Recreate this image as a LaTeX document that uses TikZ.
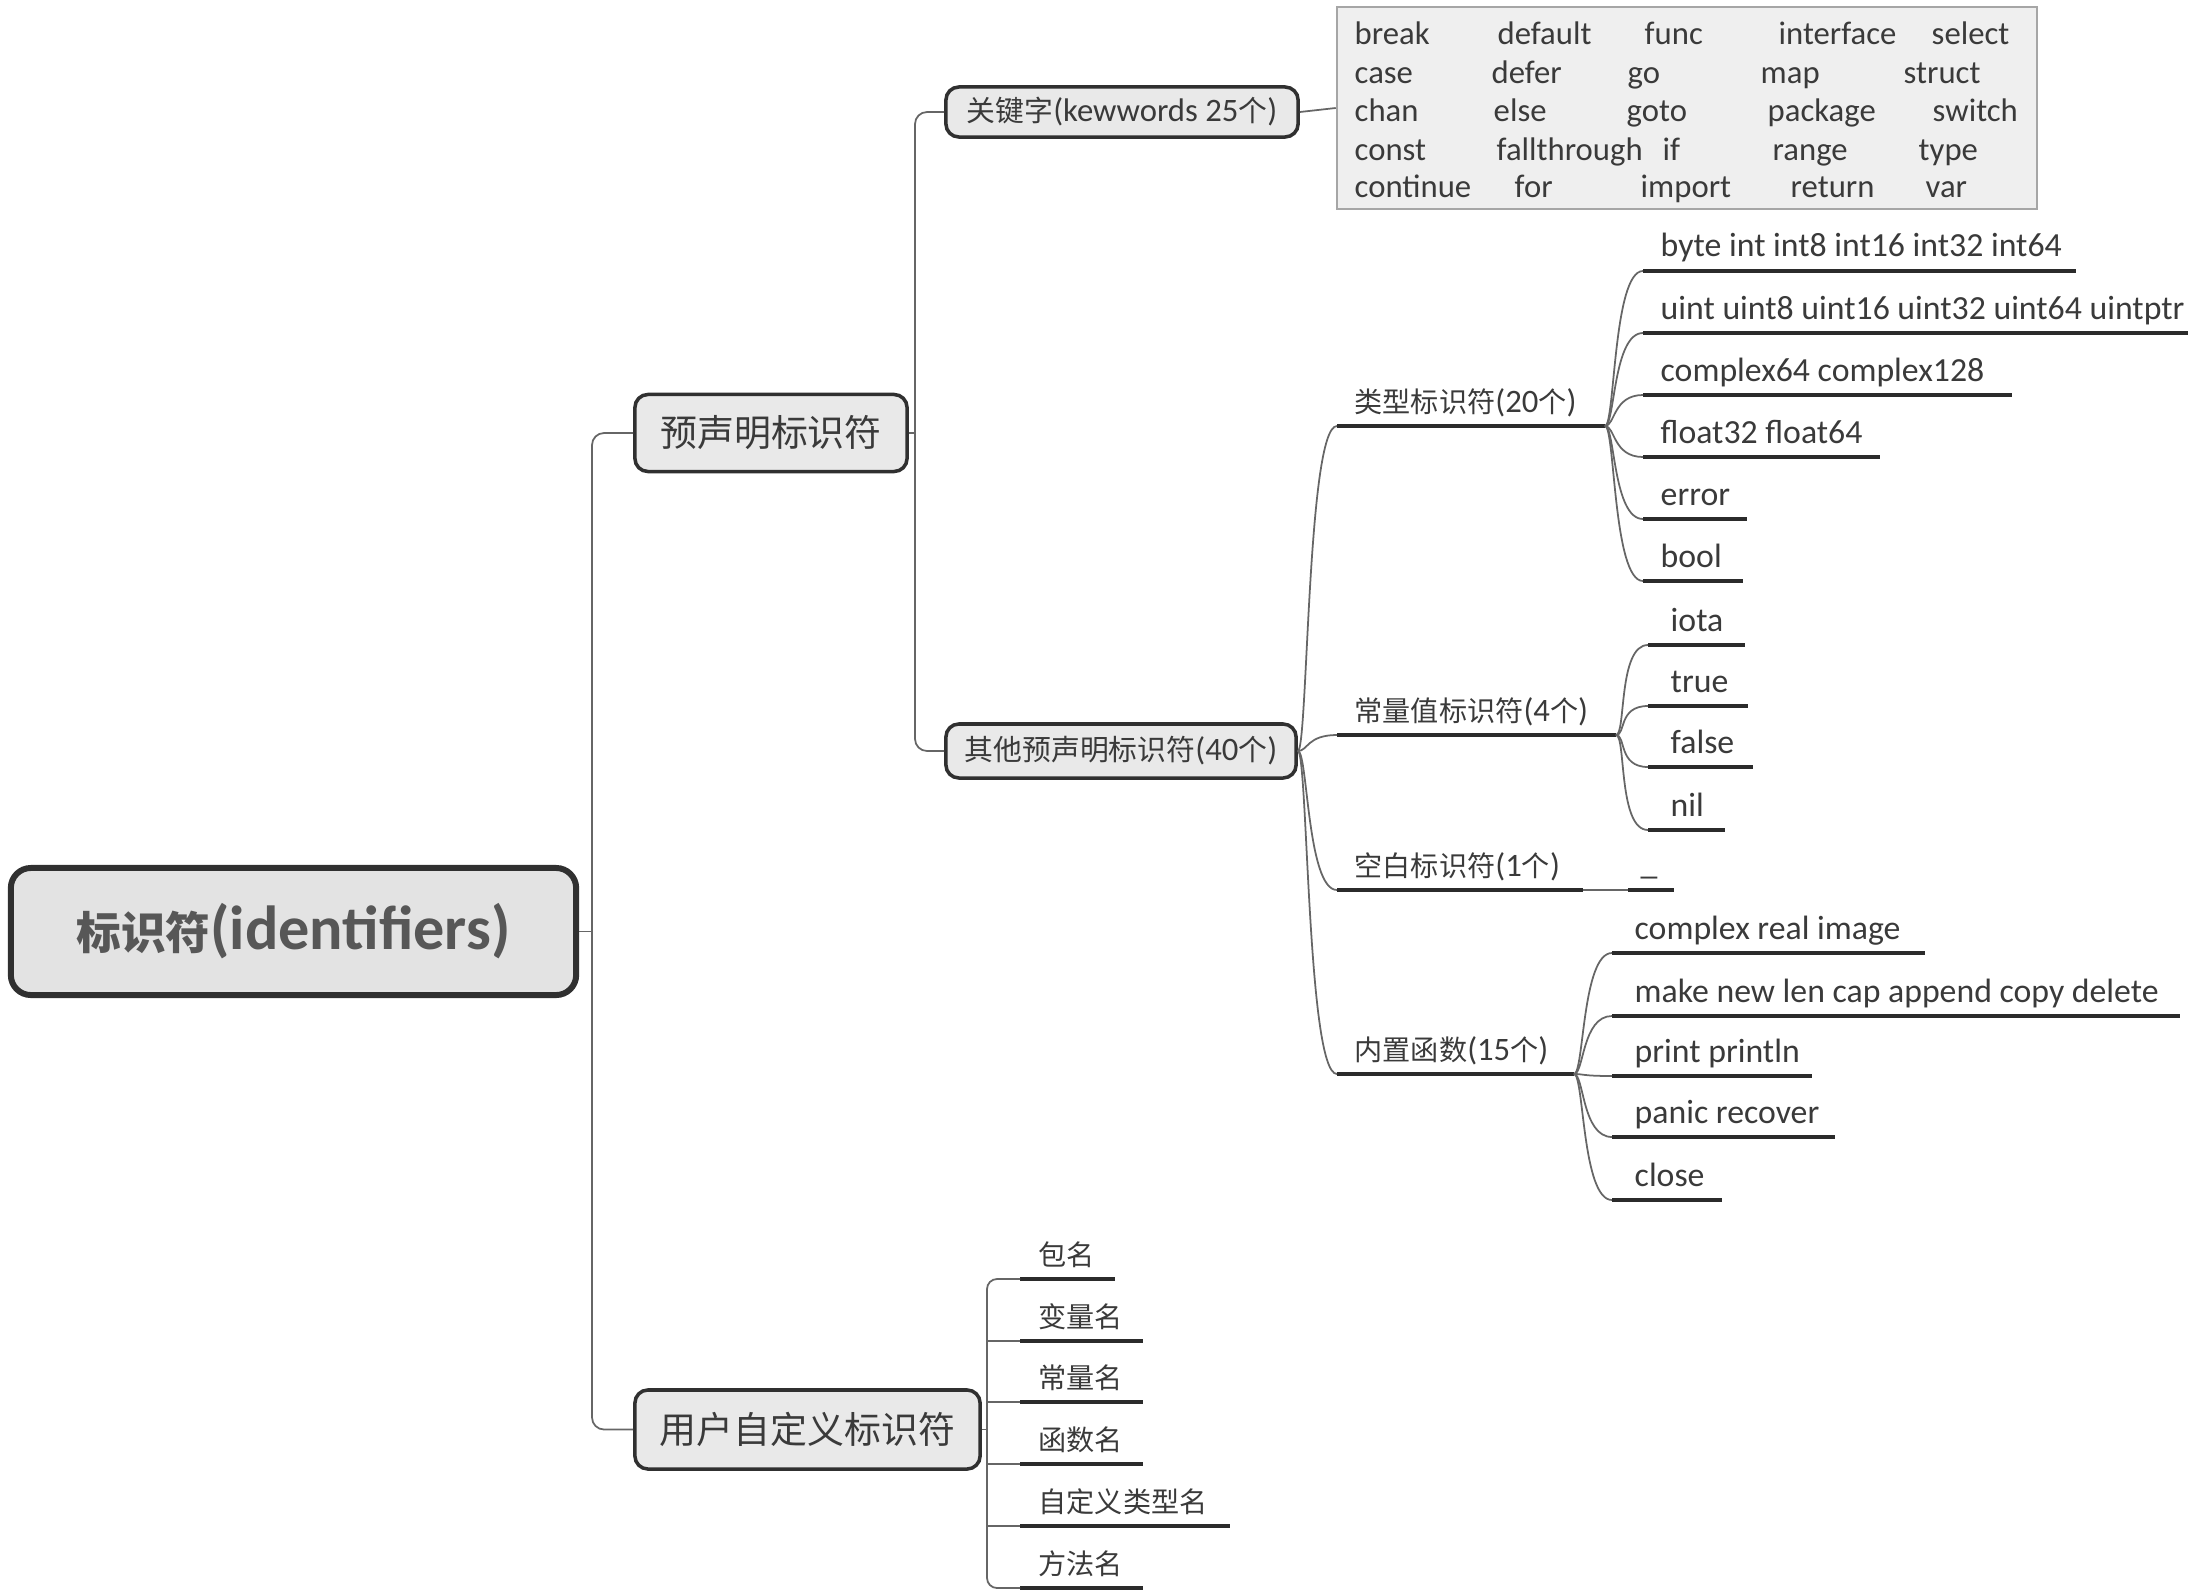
\documentclass[tikz,border=0pt]{standalone}
\usepackage{fontspec}
\setmainfont{Carlito}
\newfontfamily\cjk{Noto Sans CJK SC}
\usetikzlibrary{calc}
% CJK run at a given size (default 8pt)
\newcommand\zh[2][8]{{\cjk\fontsize{#1}{#1}\selectfont #2}}
\newcommand\lat{\fontsize{9.3}{11}\selectfont}
\newcommand\leaf{\fontsize{9.6}{11}\selectfont}
\definecolor{ink}{HTML}{3A3A3A}
\definecolor{lineclr}{HTML}{666666}
\definecolor{ulclr}{HTML}{2B2B2B}
\definecolor{boxfill}{HTML}{E9E9E9}
\definecolor{rootfill}{HTML}{E3E3E3}
\definecolor{tabfill}{HTML}{EFEFEF}
\definecolor{tabline}{HTML}{A6A6A6}
\definecolor{boxline}{HTML}{303030}
\begin{document}
\begin{tikzpicture}[x=0.01cm,y=-0.01cm,
  rootbox/.style={draw=boxline,line width=1.7pt,fill=rootfill,rounded corners=2mm,
    minimum width=5.65cm,minimum height=1.27cm,inner sep=0,text=ink!85!white},
  topic/.style={draw=boxline,line width=1pt,fill=boxfill,rounded corners=1.3mm,
    inner sep=0,text=ink},
  kwtable/.style={draw=tabline,line width=0.6pt,fill=tabfill,inner sep=0,
    minimum width=7cm,minimum height=2.02cm},
  kwtext/.style={anchor=base west,inner sep=0,text=ink,font=\lat},
  lbl/.style={anchor=base west,inner sep=0,text=ink,font=\lat},
  leaftext/.style={anchor=base west,inner sep=0,text=ink,font=\leaf},
  conn/.style={draw=lineclr,line width=0.5pt},
  uline/.style={draw=ulclr,line width=0.9pt},
  branch/.style={to path={.. controls ($(\tikztostart)+(10,0)$) and ($(\tikztotarget)+(-30,0)$) .. (\tikztotarget)}}
]
\useasboundingbox (0,0) rectangle (2188,1594);

% ---------- main topics ----------
\node[rootbox] (root) at (293.5,931.5)
  {\bfseries\zh[12.7]{标识符}\fontsize{17.7}{20}\selectfont(identifiers)};
\node[topic,minimum width=2.72cm,minimum height=0.77cm] (pre) at (771,433)
  {\zh[10.5]{预声明标识符}};
\node[topic,minimum width=3.45cm,minimum height=0.79cm] (usr) at (807.5,1429.5)
  {\zh[10.5]{用户自定义标识符}};
\node[topic,minimum width=3.52cm,minimum height=0.50cm] (kwd) at (1122,112)
  {\zh[8.2]{关键字}\lat(kewwords 25\zh[8.2]{个})};
\node[topic,minimum width=3.50cm,minimum height=0.54cm] (oth) at (1121,751)
  {\zh[8.2]{其他预声明标识符}\lat(40\zh[8.2]{个})};

% ---------- keyword table ----------
\node[kwtable] (tab) at (1687,108) {};
\foreach \x/\y/\w [count=\i] in {
  1354/45/break, 1497/45/default, 1644/45/func, 1778/45/interface, 1931/45/select,
  1354/84/case, 1491/84/defer, 1627/84/go, 1760/84/map, 1903/84/struct,
  1354/122/chan, 1493/122/else, 1626/122/goto, 1767/122/package, 1932/122/switch,
  1354/160/const, 1496/160/fallthrough, 1662/160/if, 1772/160/range, 1918/160/type,
  1354/198/continue, 1514/198/for, 1640/198/import, 1790/198/return, 1925/198/var}
  \node[kwtext] (kw\i) at (\x,\y) {\w};

% ---------- tree trunks ----------
\coordinate (t1) at (592,931.5);
\draw[conn] (root.east) -- (t1);
\draw[conn,rounded corners=1.2mm] (pre.west) -- (592,433) -- (592,1429.5) -- (usr.west);
\coordinate (t2) at (915,433);
\draw[conn] (pre.east) -- (t2);
\draw[conn,rounded corners=1.2mm] (kwd.west) -- (915,112) -- (915,751) -- (oth.west);
\draw[conn] (kwd.east) -- (tab.west);

% ---------- second-level labels of the "other" group ----------
\coordinate (ty-s) at (1337,426);  \coordinate (ty-e) at (1605,426);
\coordinate (cv-s) at (1337,735);  \coordinate (cv-e) at (1616,735);
\coordinate (bl-s) at (1337,890);  \coordinate (bl-e) at (1583,890);
\coordinate (bi-s) at (1337,1074); \coordinate (bi-e) at (1574,1074);
\node[lbl] (ty) at (1354,412) {\zh{类型标识符}(20\zh{个})};
\node[lbl] (cv) at (1354,721) {\zh{常量值标识符}(4\zh{个})};
\node[lbl] (bl) at (1354,876) {\zh{空白标识符}(1\zh{个})};
\node[lbl] (bi) at (1354,1060) {\zh{内置函数}(15\zh{个})};
\foreach \n in {ty,cv,bl,bi} {
  \draw[conn] (oth.east) to[branch] (\n-s);
  \draw[uline] (\n-s) -- (\n-e);
}

% ---------- type identifiers ----------
\foreach \y/\e/\w [count=\i] in {
  271/2076/{byte int int8 int16 int32 int64},
  333/2188/{uint uint8 uint16 uint32 uint64 uintptr},
  395/2012/{complex64 complex128},
  457/1880/{float32 float64},
  519/1747/{error},
  581/1743/{bool}} {
  \coordinate (tl\i-s) at (1643,\y);
  \coordinate (tl\i-e) at (\e,\y);
  \node[leaftext] (tl\i) at (1660,\y-14) {\w};
  \draw[conn] (ty-e) to[branch] (tl\i-s);
  \draw[uline] (tl\i-s) -- (tl\i-e);
}

% ---------- constant identifiers ----------
\foreach \y/\e/\w [count=\i] in {
  645/1745/iota, 706/1748/true, 767/1753/false, 830/1725/nil} {
  \coordinate (cl\i-s) at (1648,\y);
  \coordinate (cl\i-e) at (\e,\y);
  \node[leaftext] (cl\i) at (1670,\y-14) {\w};
  \draw[conn] (cv-e) to[branch] (cl\i-s);
  \draw[uline] (cl\i-s) -- (cl\i-e);
}

% ---------- blank identifier ----------
\coordinate (us-s) at (1628,890);
\coordinate (us-e) at (1674,890);
\node[leaftext] (us) at (1640,874) {\_};
\draw[conn] (bl-e) -- (us-s);
\draw[uline] (us-s) -- (us-e);

% ---------- builtin functions ----------
\foreach \y/\e/\w [count=\i] in {
  953/1925/{complex real image},
  1016/2180/{make new len cap append copy delete},
  1076/1812/{print println},
  1137/1835/{panic recover},
  1200/1722/{close}} {
  \coordinate (fl\i-s) at (1612,\y);
  \coordinate (fl\i-e) at (\e,\y);
  \node[leaftext] (fl\i) at (1634,\y-14) {\w};
  \draw[conn] (bi-e) to[branch] (fl\i-s);
  \draw[uline] (fl\i-s) -- (fl\i-e);
}

% ---------- user-defined identifiers ----------
\coordinate (t3) at (987,1429.5);
\draw[conn] (usr.east) -- (t3);
\foreach \y/\e/\w [count=\i] in {
  1279/1115/包名, 1341/1143/变量名, 1402/1143/常量名,
  1464/1143/函数名, 1526/1230/自定义类型名, 1588/1143/方法名} {
  \coordinate (ul\i-s) at (1020,\y);
  \coordinate (ul\i-e) at (\e,\y);
  \node[lbl] (ul\i) at (1038,\y-14) {\zh{\w}};
  \draw[uline] (ul\i-s) -- (ul\i-e);
}
\draw[conn,rounded corners=1mm] (ul1-s) -- (987,1279) -- (987,1588) -- (ul6-s);
\foreach \i/\y in {2/1341,3/1402,4/1464,5/1526}
  \draw[conn] (987,\y) -- (ul\i-s);
\end{tikzpicture}
\end{document}
